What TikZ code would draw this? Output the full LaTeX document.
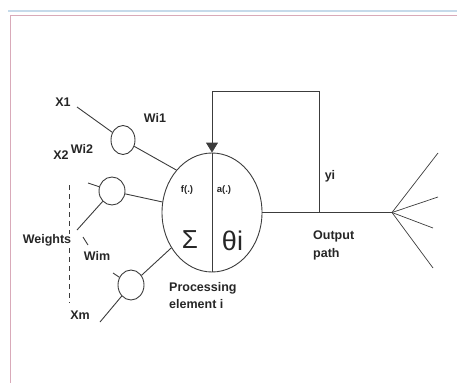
\documentclass[tikz,border=0pt]{standalone}
\usepackage{fontspec}
\setmainfont{Liberation Sans}
\usetikzlibrary{arrows.meta,positioning,shapes.geometric}
\definecolor{wire}{HTML}{3C3C3C}
\definecolor{framepink}{HTML}{D9AAB9}
\definecolor{frameblue}{HTML}{C6DAEA}

\begin{document}
\begin{tikzpicture}[x=1pt, y=-1pt,
      wire/.style={draw=wire, line width=0.9pt},
      weight/.style={ellipse, draw=wire, line width=0.9pt, minimum width=24pt,
                     minimum height=29pt, inner sep=0pt},
      lbl/.style={font=\fontsize{12.5}{17.5}\selectfont\bfseries, text=black!85, inner sep=1pt},
      fn/.style={font=\fontsize{9.5}{10}\selectfont\bfseries, text=black!85, inner sep=1pt}
    ]
      \useasboundingbox (0,0) rectangle (457,383);
      \draw[frameblue, line width=2pt] (8,11) -- (457,11);
      \draw[framepink, line width=1.5pt] (457,15.5) -- (10.5,15.5) -- (10.5,383);

      \node[ellipse, wire, minimum width=100pt, minimum height=119pt, inner sep=0pt] (pe) at (212,212.5) {};

      \node[weight] (w1) at (123,140) {};
      \node[weight, minimum width=26pt, minimum height=28pt] (w2) at (112,191) {};
      \node[weight, minimum width=26pt, minimum height=30pt] (wm) at (131,285) {};

      \coordinate (x1end) at (77,107);
      \coordinate (x2end) at (88,183);
      \coordinate (w2low) at (77,230);
      \coordinate (xmstub) at (113,273);
      \coordinate (xmend) at (100,322);
      \coordinate (tickA) at (83,237);
      \coordinate (tickB) at (88,245);
      \coordinate (dashtop) at (69,185);
      \coordinate (dashbot) at (69,303);
      \coordinate (tap) at (319,212.5);
      \coordinate (loop) at (319,91);
      \coordinate (fan) at (392,212.5);
      \coordinate (fanA) at (438,153);
      \coordinate (fanB) at (438,197);
      \coordinate (fanC) at (433,228);
      \coordinate (fanD) at (433,268);

      \draw[wire, dashed, dash pattern=on 5pt off 4pt] (dashtop) -- (dashbot);

      \draw[wire] (x1end) -- (w1);
      \draw[wire] (w1) -- (pe.130);
      \draw[wire] (x2end) -- (w2);
      \draw[wire] (w2low) -- (w2);
      \draw[wire] (w2) -- (pe.168);
      \draw[wire] (xmstub) -- (wm);
      \draw[wire] (xmend) -- (wm);
      \draw[wire] (wm) -- (pe.221);
      \draw[wire] (tickA) -- (tickB);

      \draw[wire, -{Triangle[width=12pt, length=10pt]}] (tap) -- (loop) -| (pe.north);
      \draw[wire] (pe.north) -- (pe.south);
      \draw[wire] (pe.east) -- (fan);
      \foreach \tip in {fanA, fanB, fanC, fanD}
        \draw[wire, line width=0.7pt] (fan) -- (\tip);

      \node[lbl] (x1) at (63,102) {X1};
      \node[lbl] (x2) at (61,155) {X2};
      \node[lbl] (wi1) at (155,118) {Wi1};
      \node[lbl] (wi2) at (82,149) {Wi2};
      \node[lbl, fill=white, inner sep=0.5pt] (weights) at (47,240) {Weights};
      \node[lbl] (wim) at (97,256) {Wim};
      \node[lbl] (xm) at (80,315) {Xm};
      \node[fn] (fdot) at (187,190) {f(.)};
      \node[fn] (adot) at (224,190) {a(.)};
      \node[font=\fontsize{26}{28}\selectfont, text=black!85, inner sep=0pt] (sigma) at (190,239.5) {Σ};
      \node[font=\fontsize{27}{29}\selectfont, text=black!85, inner sep=0pt] (theta) at (232.5,241) {θi};
      \node[lbl, align=left, anchor=north west] (proc) at (168,281) {Processing\\element i};
      \node[lbl] (yi) at (330,176) {yi};
      \node[lbl, align=left, anchor=north west] (outpath) at (312,230) {Output\\path};
    \end{tikzpicture}
\end{document}
